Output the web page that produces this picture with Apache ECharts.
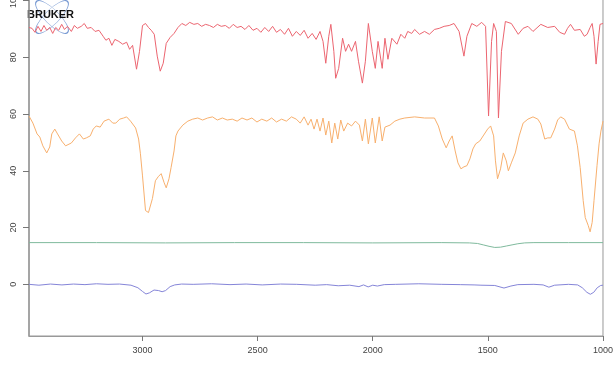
<!DOCTYPE html>
<html>
<head>
<meta charset="utf-8">
<script src="https://cdn.jsdelivr.net/npm/echarts@6/dist/echarts.min.js"></script>
<style>
  html, body { margin: 0; padding: 0; background: #fff; overflow: hidden; }
  /* plot box top sits above the window, as in the cropped original */
  #chart { width: 616px; height: 375px; position: relative; top: -10px; }
</style>
</head>
<body>
<div id="chart"></div>
<script>
// wavenumbers (cm-1) and values
var redWn = [3493,3480,3467,3454,3441,3428,3416,3403,3390,3377,3364,3351,3339,3326,3309,3296,3283,3266,3253,3240,3223,3206,3189,3171,3159,3146,3133,3120,3103,3086,3069,3056,3043,3026,3013,3000,2987,2974,2962,2949,2936,2923,2910,2897,2880,2863,2846,2829,2812,2795,2777,2760,2743,2726,2709,2692,2675,2658,2640,2623,2606,2589,2572,2555,2538,2520,2503,2486,2469,2452,2435,2418,2401,2383,2366,2349,2332,2315,2298,2281,2263,2246,2229,2216,2204,2191,2182,2169,2161,2148,2131,2118,2105,2092,2075,2062,2045,2032,2019,2002,1989,1977,1959,1947,1934,1917,1895,1878,1861,1848,1831,1818,1797,1775,1754,1732,1711,1690,1668,1647,1625,1604,1591,1570,1548,1527,1510,1497,1484,1475,1463,1454,1441,1424,1398,1368,1347,1326,1304,1270,1240,1210,1188,1167,1154,1141,1124,1099,1081,1069,1056,1047,1039,1030,1021,1013,1000];
var redT = [90.5,90.2,88.8,90.9,89.1,91.2,89.5,90.5,88.4,90.5,89.5,91.6,89.8,90.9,89.1,91.2,90.2,90.9,91.9,90.2,90.5,89.1,89.5,87.4,86.0,86.7,84.2,86.3,85.6,84.6,85.3,82.8,84.2,75.8,82.1,91.2,91.9,90.5,89.5,88.1,80.4,75.1,77.9,84.9,87.0,88.4,90.5,91.9,91.2,92.3,91.6,91.9,90.9,91.6,91.2,90.5,91.6,90.9,91.2,90.2,91.6,90.5,90.9,89.8,91.2,89.5,90.2,88.8,90.5,89.1,90.9,88.8,89.8,88.1,90.2,87.4,89.1,87.7,89.5,86.7,88.4,86.3,89.1,85.6,77.9,87.4,91.6,82.1,72.6,76.1,86.7,82.1,84.6,82.1,85.6,78.6,70.9,78.6,91.9,82.1,76.1,85.6,76.1,86.7,79.3,86.7,84.6,88.1,86.7,89.1,88.4,89.8,88.1,89.1,88.1,89.8,90.2,90.9,91.2,91.9,89.1,80.4,87.4,91.9,90.9,92.3,90.9,59.3,85.6,91.9,89.1,58.6,82.1,92.6,91.9,88.1,90.2,90.9,89.1,91.6,90.5,90.9,88.8,88.1,90.2,91.6,89.5,89.8,87.4,88.1,90.5,91.9,87.4,77.6,85.6,91.6,91.9];

var orangeWn = [3493,3476,3458,3446,3433,3416,3403,3394,3381,3369,3351,3334,3326,3309,3291,3274,3257,3244,3227,3214,3201,3184,3167,3146,3129,3116,3099,3082,3069,3052,3030,3017,3009,3000,2987,2974,2966,2957,2944,2932,2919,2906,2897,2885,2876,2863,2855,2846,2825,2803,2782,2760,2739,2717,2696,2675,2653,2632,2610,2589,2568,2546,2525,2503,2482,2460,2439,2418,2396,2375,2353,2332,2315,2298,2281,2268,2255,2242,2229,2216,2204,2191,2178,2165,2152,2139,2126,2109,2092,2075,2058,2045,2032,2019,2002,1989,1972,1959,1947,1925,1904,1882,1861,1818,1775,1732,1715,1698,1681,1668,1655,1642,1630,1617,1604,1591,1578,1565,1553,1535,1518,1501,1488,1475,1467,1458,1445,1433,1420,1411,1398,1381,1364,1347,1326,1304,1283,1270,1253,1240,1227,1210,1197,1184,1167,1146,1124,1111,1099,1086,1077,1064,1056,1047,1039,1026,1017,1009,1000];
var orangeT = [59.3,56.8,53.0,51.9,48.8,46.3,48.4,53.0,54.7,53.0,50.5,48.8,48.1,49.8,51.6,53.0,51.2,51.6,52.3,54.7,55.8,55.4,57.5,58.2,56.8,56.8,58.2,58.6,59.0,57.5,55.1,51.2,46.0,38.2,26.0,25.3,25.3,30.2,36.5,37.9,39.0,35.8,34.0,37.2,41.1,47.0,52.3,54.0,56.1,57.5,58.2,58.6,57.9,58.6,59.0,57.9,58.6,57.9,58.2,57.5,58.6,57.9,58.6,57.2,58.2,57.5,58.6,57.2,58.2,57.5,59.0,58.2,56.8,59.0,56.1,58.2,54.7,58.2,54.0,58.6,52.6,57.5,49.8,56.8,51.2,57.9,54.0,56.8,55.8,57.5,56.1,50.5,58.2,49.5,58.6,49.8,59.0,50.5,55.4,56.1,57.5,58.2,58.6,59.0,58.6,58.6,55.8,51.2,48.1,50.5,52.3,47.0,42.8,40.7,41.4,41.8,44.2,47.7,49.5,50.5,52.6,54.7,55.8,52.3,43.5,37.2,40.7,46.3,43.5,40.0,42.8,46.3,52.3,56.8,58.2,59.0,58.2,56.5,51.2,51.6,51.6,54.7,57.9,59.0,58.2,54.7,54.0,48.8,41.1,29.5,23.5,20.7,18.5,21.8,29.5,41.8,49.5,54.0,57.5];

var greenWn = [3493,3200,2900,2600,2300,2000,1700,1580,1545,1520,1495,1470,1445,1420,1395,1370,1340,1300,1150,1000];
var greenT = [14.7,14.7,14.6,14.7,14.7,14.6,14.7,14.6,14.4,13.9,13.4,13.0,13.1,13.5,13.9,14.3,14.6,14.7,14.7,14.7];

var blueWn = [3493,3450,3400,3350,3300,3250,3200,3150,3100,3050,3020,3000,2985,2970,2950,2930,2915,2900,2880,2860,2830,2780,2700,2620,2550,2480,2400,2330,2250,2200,2150,2100,2060,2040,2020,2000,1980,1950,1900,1800,1700,1620,1560,1530,1470,1430,1400,1370,1300,1260,1235,1210,1150,1110,1090,1070,1055,1040,1025,1010,1000];
var blueT = [0,-0.3,0.1,-0.2,0.1,-0.1,0.2,0,0.1,-0.3,-1.2,-2.5,-3.4,-3.0,-2.0,-2.2,-2.6,-2.2,-0.8,-0.2,0.1,0,0.2,-0.1,0.1,-0.2,0.1,0,-0.3,-0.1,-0.5,-0.3,-0.8,-0.2,-0.9,-0.3,-0.6,-0.1,0,0.2,0,-0.1,-0.2,-0.3,-0.4,-1.3,-0.6,-0.1,0,-0.2,-1.0,-0.3,0,-0.2,-1.2,-2.8,-3.5,-2.8,-1.2,-0.4,-0.3];

var xTicks = [1000, 1500, 2000, 2500, 3000];
var yTicks = [0, 20, 40, 60, 80, 100];

function pairs(xs, ys) {
  var out = [];
  for (var i = 0; i < xs.length; i++) out.push([xs[i], ys[i]]);
  return out;
}

function spectrum(name, xs, ys, color) {
  return {
    name: name,
    type: 'line',
    data: pairs(xs, ys),
    symbol: 'none',
    lineStyle: { color: color, width: 1 },
    silent: true
  };
}

var labelFont = 'Liberation Sans, Arial, sans-serif';
var myChart = echarts.init(document.getElementById('chart'));
var option = {
  animation: false,
  backgroundColor: '#fff',
  grid: {
    left: 29, right: 5, top: 0, bottom: 29,
    show: true, borderColor: '#999', borderWidth: 1
  },
  xAxis: {
    type: 'value',
    inverse: true,
    min: 1000,
    max: 3493,
    splitLine: { show: false },
    axisLine: { show: true, onZero: false, lineStyle: { color: '#999' } },
    axisTick: { show: true, length: 5, customValues: xTicks, lineStyle: { color: '#777' } },
    axisLabel: {
      customValues: xTicks, margin: 10,
      fontSize: 9, color: '#444', fontFamily: labelFont,
      formatter: function (v) { return String(v); }
    }
  },
  yAxis: {
    type: 'value',
    min: -18.2,
    max: 103.2,
    splitLine: { show: false },
    axisLine: { show: true, onZero: false, lineStyle: { color: '#999', width: 1.5 } },
    axisTick: { show: true, length: 6, customValues: yTicks, lineStyle: { color: '#777' } },
    axisLabel: {
      customValues: yTicks, rotate: 90, margin: 11,
      fontSize: 9, color: '#444', fontFamily: labelFont,
      formatter: function (v) { return String(v); }
    }
  },
  graphic: [
    {
      type: 'circle', shape: { cx: 0, cy: 0, r: 22 },
      x: 52, y: 27, scaleY: 0.33, rotation: Math.PI / 4,
      style: { fill: 'none', stroke: '#5b84c9', lineWidth: 1.3, opacity: 0.85 }
    },
    {
      type: 'circle', shape: { cx: 0, cy: 0, r: 22 },
      x: 52, y: 27, scaleY: 0.33, rotation: -Math.PI / 4,
      style: { fill: 'none', stroke: '#5b84c9', lineWidth: 1.3, opacity: 0.85 }
    },
    {
      type: 'text', x: 27, y: 25,
      style: {
        text: 'BRUKER', fill: '#111', font: 'bold 11px ' + labelFont,
        verticalAlign: 'middle'
      }
    }
  ],
  series: [
    spectrum('red', redWn, redT, '#ec6570'),
    spectrum('orange', orangeWn, orangeT, '#f8b06e'),
    spectrum('green', greenWn, greenT, '#7fba9d'),
    spectrum('blue', blueWn, blueT, '#8585d8')
  ]
};
option && myChart.setOption(option);
</script>
</body>
</html>
